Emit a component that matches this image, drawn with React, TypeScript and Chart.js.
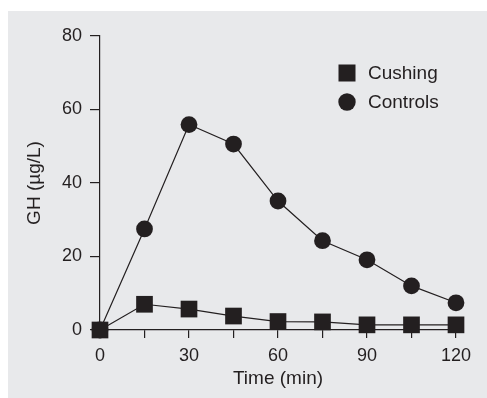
import React, { useEffect, useRef } from "react";
import { Chart, registerables } from "chart.js";

Chart.register(...registerables);

const timePoints = [0, 15, 30, 45, 60, 75, 90, 105, 120];
const cushingValues = [0, 7.0, 5.7, 3.8, 2.3, 2.2, 1.4, 1.4, 1.4];
const controlValues = [0, 27.5, 55.9, 50.6, 35.1, 24.3, 19.1, 12.0, 7.4];
const xTickValues = [0, 15, 30, 45, 60, 75, 90, 105, 120];
const xLabeledTicks = [0, 30, 60, 90, 120];
const yTickValues = [0, 20, 40, 60, 80];
const seriesNames = ["Cushing", "Controls"];

const INK = "#231f20";
const FONT = "'Liberation Sans', Arial, Helvetica, sans-serif";

const legendPlugin = {
  id: "innerLegend",
  afterDraw(chart: any) {
    const ctx = chart.ctx;
    const x0 = 339;
    const ys = [62, 91];
    ctx.save();
    chart.data.datasets.forEach((ds: any, i: number) => {
      const y = ys[i];
      ctx.fillStyle = INK;
      if (ds.pointStyle === "rect") {
        ctx.fillRect(x0 - 8.5, y - 8.5, 17, 17);
      } else {
        ctx.beginPath();
        ctx.arc(x0, y, 8.7, 0, Math.PI * 2);
        ctx.fill();
      }
      ctx.font = `19px ${FONT}`;
      ctx.textAlign = "left";
      ctx.textBaseline = "middle";
      ctx.fillText(ds.label, 360, y + 1);
    });
    ctx.restore();
  },
};

export default function App() {
  const ref = useRef<HTMLCanvasElement | null>(null);
  useEffect(() => {
    if (!ref.current) return;
    const chart = new Chart(ref.current, {
      type: "line",
      data: {
        datasets: [
          {
            label: seriesNames[0],
            data: timePoints.map((t, i) => ({ x: t, y: cushingValues[i] })),
            borderColor: INK,
            backgroundColor: INK,
            borderWidth: 1.2,
            pointStyle: "rect",
            pointRadius: 11.8,
            pointBorderWidth: 0,
            pointBackgroundColor: INK,
            clip: false,
          },
          {
            label: seriesNames[1],
            data: timePoints.map((t, i) => ({ x: t, y: controlValues[i] })),
            borderColor: INK,
            backgroundColor: INK,
            borderWidth: 1.2,
            pointStyle: "circle",
            pointRadius: 8.4,
            pointBorderWidth: 0,
            pointBackgroundColor: INK,
            clip: false,
          },
        ],
      },
      options: {
        animation: false,
        responsive: false,
        maintainAspectRatio: false,
        layout: { padding: { top: 25, right: 31, left: 0, bottom: 0 } },
        plugins: { legend: { display: false }, tooltip: { enabled: false } },
        scales: {
          x: {
            type: "linear",
            min: 0,
            max: 120,
            afterBuildTicks: (s: any) => {
              s.ticks = xTickValues.map((v) => ({ value: v }));
            },
            afterFit: (s: any) => {
              s.height = 68;
            },
            border: { display: true, color: INK, width: 1.2 },
            grid: {
              display: true,
              drawOnChartArea: false,
              drawTicks: true,
              tickLength: 8,
              color: INK,
              lineWidth: 1.2,
            },
            ticks: {
              autoSkip: false,
              maxRotation: 0,
              padding: 7,
              color: INK,
              font: { size: 18, family: FONT },
              callback: (v: any) => (xLabeledTicks.includes(Number(v)) ? String(v) : ""),
            },
            title: {
              display: true,
              text: "Time (min)",
              color: INK,
              font: { size: 19, family: FONT },
              padding: { top: 0, bottom: 8 },
            },
          },
          y: {
            type: "linear",
            min: 0,
            max: 80,
            afterBuildTicks: (s: any) => {
              s.ticks = yTickValues.map((v) => ({ value: v }));
            },
            afterFit: (s: any) => {
              s.width = 92;
            },
            border: { display: true, color: INK, width: 1.2 },
            grid: {
              display: true,
              drawOnChartArea: false,
              drawTicks: true,
              tickLength: 10,
              color: INK,
              lineWidth: 1.2,
            },
            ticks: {
              padding: 8,
              color: INK,
              font: { size: 18, family: FONT },
            },
            title: {
              display: true,
              text: "GH (µg/L)",
              color: INK,
              font: { size: 19, family: FONT },
              padding: { top: 15.6, bottom: 0 },
            },
          },
        },
      },
      plugins: [legendPlugin],
    } as any);
    return () => chart.destroy();
  }, []);

  return (
    <div
      style={{
        position: "absolute",
        left: 8,
        top: 11,
        width: 479,
        height: 387,
        background: "#e8e9eb",
      }}
    >
      <canvas ref={ref} width={479} height={387} style={{ display: "block" }} />
    </div>
  );
}
